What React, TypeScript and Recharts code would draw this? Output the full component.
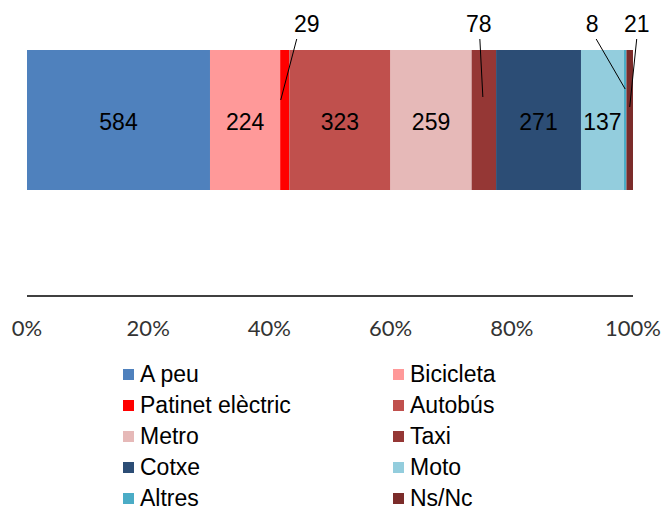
import React from "react";
import { BarChart, Bar, XAxis, YAxis, LabelList } from "recharts";

const SERIES = [
  "A peu",
  "Bicicleta",
  "Patinet elèctric",
  "Autobús",
  "Metro",
  "Taxi",
  "Cotxe",
  "Moto",
  "Altres",
  "Ns/Nc",
];
const VALUES = [584, 224, 29, 323, 259, 78, 271, 137, 8, 21];
const COLORS = [
  "#4F81BD",
  "#FF9999",
  "#FF0000",
  "#C0504D",
  "#E6B9B8",
  "#953735",
  "#2C4D75",
  "#93CDDD",
  "#4BACC6",
  "#7B2C2A",
];
const TICKS = [0, 0.2, 0.4, 0.6, 0.8, 1];

// callouts for the thin segments: label offset from segment centre,
// leader start offset from label, leader end offset from segment centre, end y
const CALLOUTS: Record<string, { dx: number; lx: number; ex: number; ey: number }> = {
  "Patinet elèctric": { dx: 22, lx: -10, ex: -4, ey: 100 },
  Taxi: { dx: -5, lx: 1, ex: -1, ey: 97 },
  Altres: { dx: -33, lx: 4, ex: 0, ey: 89 },
  "Ns/Nc": { dx: 7, lx: 0, ex: 0, ey: 107 },
};

const row: Record<string, string | number> = { name: "total" };
SERIES.forEach((s, i) => {
  row[s] = VALUES[i];
});
const data = [row];

const LABEL_FONT = "'Liberation Sans', Arial, sans-serif";

function makeLabel(series: string) {
  const callout = CALLOUTS[series];
  return (props: any) => {
    const { x, y, width, height, value } = props;
    const cx = Number(x) + Number(width) / 2;
    if (callout) {
      const tx = cx + callout.dx;
      return (
        <g>
          <line
            x1={tx + callout.lx}
            y1={39}
            x2={cx + callout.ex}
            y2={callout.ey}
            stroke="#000"
            strokeWidth={1}
          />
          <text
            x={tx}
            y={32}
            textAnchor="middle"
            fontSize={23}
            fontFamily={LABEL_FONT}
            fill="#000"
          >
            {value}
          </text>
        </g>
      );
    }
    return (
      <text
        x={cx}
        y={Number(y) + Number(height) / 2 + 10}
        textAnchor="middle"
        fontSize={23}
        fontFamily={LABEL_FONT}
        fill="#000"
      >
        {value}
      </text>
    );
  };
}

export default function App() {
  return (
    <div style={{ position: "absolute", left: 0, top: 0, width: 665, height: 510, background: "#fff" }}>
      <BarChart
        width={665}
        height={340}
        data={data}
        layout="vertical"
        stackOffset="expand"
        barCategoryGap={0}
        margin={{ top: 50, right: 32, left: 27, bottom: 0 }}
      >
        <XAxis
          type="number"
          domain={[0, 1]}
          ticks={TICKS}
          tickFormatter={(v: number) => `${Math.round(v * 100)}%`}
          axisLine={{ stroke: "#000", strokeWidth: 1.3 }}
          tickLine={false}
          tickSize={0}
          tickMargin={24}
          height={44}
          interval={0}
          tick={{ fontFamily: "Lato, sans-serif", fontSize: 22, fill: "#333" }}
        />
        <YAxis type="category" dataKey="name" hide padding={{ top: 0, bottom: 106 }} />
        {SERIES.map((s, i) => (
          <Bar key={s} dataKey={s} stackId="a" fill={COLORS[i]} isAnimationActive={false}>
            <LabelList dataKey={s} content={makeLabel(s)} />
          </Bar>
        ))}
      </BarChart>
      {SERIES.map((s, i) => {
        const col = i % 2;
        const r = Math.floor(i / 2);
        return (
          <div
            key={s}
            style={{
              position: "absolute",
              left: col === 0 ? 123 : 393,
              top: 374 + r * 31 - 10,
              height: 20,
              lineHeight: "20px",
              display: "flex",
              alignItems: "center",
              fontFamily: LABEL_FONT,
              fontSize: 23,
              color: "#000",
              whiteSpace: "nowrap",
            }}
          >
            <span style={{ width: 11, height: 11, background: COLORS[i], marginRight: 6, display: "inline-block" }} />
            {s}
          </div>
        );
      })}
    </div>
  );
}
